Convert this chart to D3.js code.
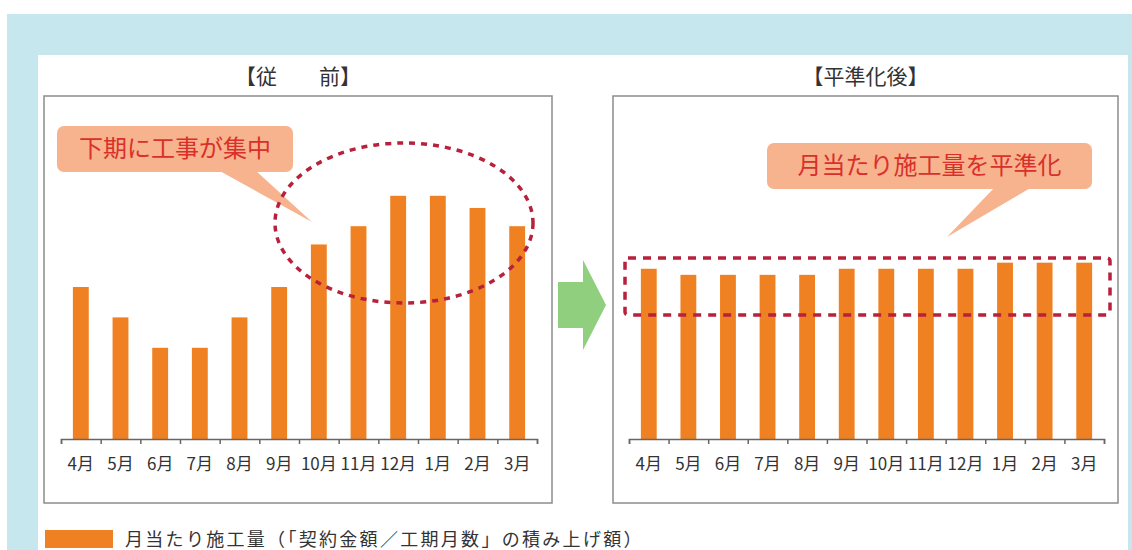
<!DOCTYPE html>
<html>
<head>
<meta charset="utf-8">
<script src="https://cdn.jsdelivr.net/npm/d3@7"></script>
<style>
  body { margin: 0; background: #fff; }
  svg { display: block; font-family: "Noto Sans CJK JP", "Noto Sans", sans-serif; }
</style>
</head>
<body>
<svg id="chart" width="1132" height="550"></svg>
<script>
const months = ["4月", "5月", "6月", "7月", "8月", "9月", "10月", "11月", "12月", "1月", "2月", "3月"];
const beforeValues = [5, 4, 3, 3, 4, 5, 6.4, 7, 8, 8, 7.6, 7];
const afterValues = [5.6, 5.4, 5.4, 5.4, 5.4, 5.6, 5.6, 5.6, 5.6, 5.8, 5.8, 5.8];
const panelTitles = ["【従　　前】", "【平準化後】"];
const calloutTexts = ["下期に工事が集中", "月当たり施工量を平準化"];
const legendLabel = "月当たり施工量（「契約金額／工期月数」の積み上げ額）";

const svg = d3.select("#chart");
const barColor = "#f08122";
const dashColor = "#b8213c";

// background frame
svg.append("rect").attr("x", 7).attr("y", 14).attr("width", 1125).attr("height", 536).attr("fill", "#c6e7ed");
svg.append("rect").attr("x", 38).attr("y", 55).attr("width", 1090).attr("height", 495).attr("fill", "#fff");

const y = d3.scaleLinear().domain([0, 10]).range([439, 135]);

function drawPanel(values, box, axisRange, title) {
  const g = svg.append("g");

  g.append("rect")
    .attr("x", box.x).attr("y", box.y)
    .attr("width", box.w).attr("height", box.h)
    .attr("fill", "#fff")
    .attr("stroke", "#8c8c8c")
    .attr("stroke-width", 1.5);

  g.append("text")
    .attr("x", box.x + box.w / 2)
    .attr("y", 84)
    .attr("text-anchor", "middle")
    .attr("font-size", "21px")
    .attr("font-weight", "normal")
    .attr("fill", "#333")
    .text(title);

  const x = d3.scaleBand()
    .domain(months)
    .range(axisRange)
    .paddingInner(0.6)
    .paddingOuter(0.3);

  g.selectAll(".bar")
    .data(values)
    .enter()
    .append("rect")
    .attr("x", (d, i) => x(months[i]))
    .attr("y", (d) => y(d))
    .attr("width", x.bandwidth())
    .attr("height", (d) => y(0) - y(d))
    .attr("fill", barColor);

  // ticks at band edges
  const edge = d3.scaleLinear().domain([0, months.length]).range(axisRange);
  const tickAxis = g.append("g")
    .attr("transform", `translate(0,${y(0)})`)
    .call(d3.axisBottom(edge).ticks(months.length).tickSize(5).tickSizeOuter(5).tickFormat(""));
  tickAxis.selectAll("path, line").attr("stroke", "#666").attr("stroke-width", 1.5);

  const labelAxis = g.append("g")
    .attr("transform", `translate(0,${y(0)})`)
    .call(d3.axisBottom(x).tickSize(0).tickPadding(19));
  labelAxis.select(".domain").remove();
  labelAxis.selectAll("text")
    .attr("font-size", "17px")
    .attr("font-family", "'Noto Sans CJK JP', sans-serif")
    .attr("fill", "#333");

  return x;
}

drawPanel(beforeValues, { x: 44, y: 96, w: 508, h: 407 }, [61, 537], panelTitles[0]);
drawPanel(afterValues, { x: 613, y: 96, w: 505, h: 407 }, [629, 1104], panelTitles[1]);

// callouts
function callout(rect, tail, text) {
  const g = svg.append("g");
  g.append("path")
    .attr("d", `M${tail[0][0]},${tail[0][1]} L${tail[1][0]},${tail[1][1]} L${tail[2][0]},${tail[2][1]} Z`)
    .attr("fill", "#f7b28e");
  g.append("rect")
    .attr("x", rect.x).attr("y", rect.y)
    .attr("width", rect.w).attr("height", rect.h)
    .attr("rx", 7)
    .attr("fill", "#f7b28e");
  g.append("text")
    .attr("x", rect.x + rect.w / 2)
    .attr("y", rect.y + rect.h / 2 + 8)
    .attr("text-anchor", "middle")
    .attr("font-size", "24px")
    .attr("font-weight", "normal")
    .attr("fill", "#d9302a")
    .text(text);
}

callout({ x: 57, y: 126, w: 236, h: 46 }, [[218, 170], [255, 170], [312, 222]], calloutTexts[0]);
callout({ x: 767, y: 143, w: 325, h: 46 }, [[995, 187], [1032, 187], [947, 237]], calloutTexts[1]);

// dashed highlights
svg.append("ellipse")
  .attr("cx", 404).attr("cy", 223)
  .attr("rx", 129).attr("ry", 80)
  .attr("fill", "none")
  .attr("stroke", dashColor)
  .attr("stroke-width", 3.5)
  .attr("stroke-dasharray", "6,6");

svg.append("rect")
  .attr("x", 625).attr("y", 258)
  .attr("width", 485).attr("height", 57)
  .attr("rx", 3)
  .attr("fill", "none")
  .attr("stroke", dashColor)
  .attr("stroke-width", 3.5)
  .attr("stroke-dasharray", "8,7");

// green arrow
svg.append("path")
  .attr("d", "M558,282 L583,282 L583,260 L606,305 L583,350 L583,328 L558,328 Z")
  .attr("fill", "#8fcf7e");

// legend
svg.append("rect")
  .attr("x", 45).attr("y", 530)
  .attr("width", 68).attr("height", 18)
  .attr("fill", barColor);
svg.append("text")
  .attr("x", 125).attr("y", 546)
  .attr("font-size", "18px")
  .attr("letter-spacing", "2.3px")
  .attr("fill", "#333")
  .text(legendLabel);
</script>
</body>
</html>
